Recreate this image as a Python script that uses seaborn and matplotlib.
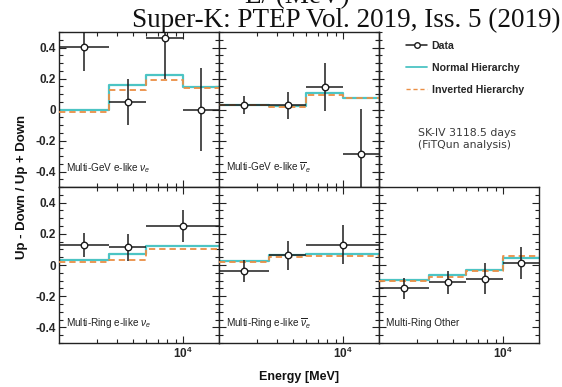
import numpy as np
import pandas as pd
import matplotlib
matplotlib.use("Agg")
import matplotlib.pyplot as plt
import matplotlib.ticker as mticker
import seaborn as sns

sns.set_style("ticks")
plt.rcParams['font.family'] = ['Liberation Sans', 'DejaVu Sans']
plt.rcParams['mathtext.fontset'] = 'custom'
plt.rcParams['mathtext.rm'] = 'Liberation Sans'
plt.rcParams['mathtext.it'] = 'Liberation Sans:italic'
plt.rcParams['mathtext.bf'] = 'Liberation Sans:bold'

# ---------------- data ----------------
E_MIN, E_MAX = 1770, 16500
edges4 = [1770, 3560, 5980, 10000, 16500]
edges3 = [1770, 3560, 5980, 16500]

titles = [r"Multi-GeV e-like $\nu_e$", r"Multi-GeV e-like $\overline{\nu}_e$",
          r"Multi-Ring e-like $\nu_e$", r"Multi-Ring e-like $\overline{\nu}_e$",
          "Multi-Ring Other"]

# Multi-GeV e-like nu_e
mge_nue_y = [0.40, 0.05, 0.46, 0.0]
mge_nue_err = [0.15, 0.15, 0.26, 0.27]
mge_nue_nh = [0.0, 0.157, 0.225, 0.142]
mge_nue_ih = [-0.013, 0.127, 0.19, 0.14]
# Multi-GeV e-like nubar_e
mge_nueb_y = [0.03, 0.026, 0.146, -0.287]
mge_nueb_err = [0.06, 0.085, 0.155, 0.29]
mge_nueb_nh = [0.03, 0.022, 0.105, 0.077]
mge_nueb_ih = [0.026, 0.015, 0.094, 0.077]
# Multi-Ring e-like nu_e
mre_nue_y = [0.129, 0.114, 0.25]
mre_nue_err = [0.075, 0.087, 0.10]
mre_nue_nh = [0.033, 0.068, 0.125]
mre_nue_ih = [0.022, 0.033, 0.103]
# Multi-Ring e-like nubar_e
mre_nueb_y = [-0.037, 0.061, 0.129]
mre_nueb_err = [0.07, 0.095, 0.125]
mre_nueb_nh = [0.024, 0.063, 0.07]
mre_nueb_ih = [0.02, 0.052, 0.059]
# Multi-Ring Other
mr_oth_y = [-0.149, -0.112, -0.087, 0.013]
mr_oth_err = [0.066, 0.074, 0.10, 0.104]
mr_oth_nh = [-0.096, -0.061, -0.033, 0.048]
mr_oth_ih = [-0.105, -0.077, -0.036, 0.057]

panels = [
    (edges4, mge_nue_y, mge_nue_err, mge_nue_nh, mge_nue_ih),
    (edges4, mge_nueb_y, mge_nueb_err, mge_nueb_nh, mge_nueb_ih),
    (edges3, mre_nue_y, mre_nue_err, mre_nue_nh, mre_nue_ih),
    (edges3, mre_nueb_y, mre_nueb_err, mre_nueb_nh, mre_nueb_ih),
    (edges4, mr_oth_y, mr_oth_err, mr_oth_nh, mr_oth_ih),
]

CYAN = "#4cc4c4"
ORANGE = "#eb8f45"
DARK = "#1c1c1c"

W, H = 562, 387
fig = plt.figure(figsize=(W / 100, H / 100), dpi=100)

def add_ax(x0, y0, x1, y1):
    return fig.add_axes([x0 / W, 1 - y1 / H, (x1 - x0) / W, (y1 - y0) / H])

cols = [(59, 219), (219, 379), (379, 539)]
rows = [(32, 187), (187, 343)]
slots = [(0, 0), (0, 1), (1, 0), (1, 1), (1, 2)]

def yfmt(v, pos):
    if abs(v) < 1e-9:
        return "0"
    return "%.1f" % v

for idx, ((r, c), (edges, y, yerr, nh, ih)) in enumerate(zip(slots, panels)):
    ax = add_ax(cols[c][0], rows[r][0], cols[c][1], rows[r][1])
    ax.set_xscale('log')
    ax.set_xlim(E_MIN, E_MAX)
    ax.set_ylim(-0.5, 0.5)
    e = np.array(edges, dtype=float)
    centers = np.sqrt(e[:-1] * e[1:])
    # model step lines
    sns.lineplot(x=list(edges), y=list(nh) + [nh[-1]], ax=ax, color=CYAN, lw=1.6,
                 drawstyle='steps-post', estimator=None, sort=False, zorder=2)
    sns.lineplot(x=list(edges), y=list(ih) + [ih[-1]], ax=ax, color=ORANGE, lw=1.3,
                 linestyle=(0, (3.5, 2.2)), drawstyle='steps-post', estimator=None,
                 sort=False, zorder=3)
    # data
    ax.errorbar(centers, y, xerr=[centers - e[:-1], e[1:] - centers], yerr=yerr,
                fmt='none', ecolor=DARK, elinewidth=1.1, capsize=0, zorder=4)
    sns.scatterplot(x=centers, y=y, ax=ax, marker='o', s=22, facecolor='white',
                    edgecolor=DARK, linewidth=1.0, zorder=5)
    ax.text(7 / 160, 0.125, titles[idx], transform=ax.transAxes, fontsize=7.2,
            ha='left', va='center', color='#222')
    # ticks
    ax.yaxis.set_major_locator(mticker.MultipleLocator(0.2))
    ax.yaxis.set_minor_locator(mticker.MultipleLocator(0.05))
    ax.yaxis.set_major_formatter(mticker.FuncFormatter(yfmt))
    ax.xaxis.set_major_locator(mticker.LogLocator(base=10, subs=(1.0,)))
    ax.xaxis.set_minor_locator(mticker.LogLocator(base=10, subs=(3, 4, 5, 6, 7, 8, 9)))
    ax.xaxis.set_minor_formatter(mticker.NullFormatter())
    ax.tick_params(which='both', direction='in', top=True, right=True,
                   width=0.8, color='#222')
    ax.tick_params(which='major', length=5, labelsize=8.5, pad=2)
    ax.tick_params(which='minor', length=2.6)
    for lab in ax.get_yticklabels() + ax.get_xticklabels():
        lab.set_fontweight('bold')
    if c != 0:
        ax.set_yticklabels([])
    if r == 0:
        ax.set_xticklabels([])
    for s in ax.spines.values():
        s.set_linewidth(1.0)
        s.set_color('#222')
    ax.set_xlabel("")
    ax.set_ylabel("")

# top-right legend area
axl = add_ax(379, 32, 539, 187)
axl.set_xlim(0, 1)
axl.set_ylim(-0.5, 0.5)
axl.set_xticks([])
axl.yaxis.set_major_locator(mticker.MultipleLocator(0.2))
axl.yaxis.set_minor_locator(mticker.MultipleLocator(0.05))
axl.set_yticklabels([])
axl.tick_params(which='both', direction='inout', left=True, width=0.8, color='#222')
axl.tick_params(which='major', length=7)
axl.tick_params(which='minor', length=4)
for k in ['top', 'right', 'bottom']:
    axl.spines[k].set_visible(False)
axl.spines['left'].set_linewidth(1.0)
axl.spines['left'].set_color('#222')
axl.patch.set_alpha(0)

from matplotlib.lines import Line2D
handles = [Line2D([], [], color=DARK, lw=1.1, marker='o', ms=4, mfc='white', mec=DARK),
           Line2D([], [], color=CYAN, lw=1.3),
           Line2D([], [], color=ORANGE, lw=1.0, linestyle=(0, (3, 2)))]
leg = axl.legend(handles, ["Data", "Normal Hierarchy", "Inverted Hierarchy"],
                 loc='upper left', bbox_to_anchor=(0.17, 0.945), frameon=False,
                 prop={'size': 7.6, 'weight': 'bold'}, handlelength=2.0,
                 handletextpad=0.4, labelspacing=1.15, borderpad=0, borderaxespad=0)

axl.text((418 - 379) / 160, (187 - 139) / 155, "SK-IV 3118.5 days\n(FiTQun analysis)",
         transform=axl.transAxes, fontsize=7.8, family='DejaVu Sans', color='#3a3a3a',
         ha='left', va='center', linespacing=1.3)

fig.text(22 / W, 1 - 187 / H, "Up - Down / Up + Down", rotation=90, ha='center',
         va='center', fontsize=9.5, fontweight='bold', color='#111')
fig.text(299 / W, 1 - 377 / H, "Energy [MeV]", ha='center', va='center',
         fontsize=9, fontweight='bold', color='#111')

fig.text(297 / W, 1 - 3 / H, "E/ (MeV)", ha='center', va='baseline', fontsize=19.5,
         family='Liberation Serif', color='#111')
fig.text(561 / W, 1 - 27 / H, "Super-K: PTEP Vol. 2019, Iss. 5 (2019)", ha='right',
         va='baseline', fontsize=19.5, family='Liberation Serif', color='#111')

fig.savefig("out.png", dpi=100)
